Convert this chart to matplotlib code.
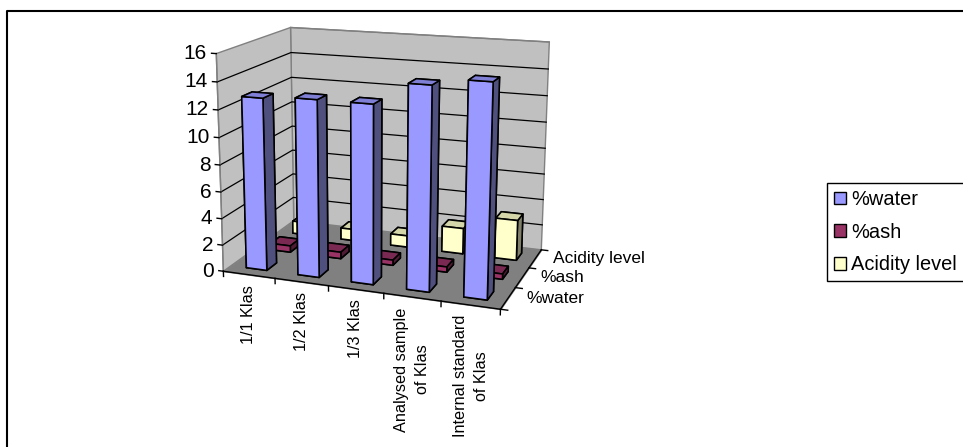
import numpy as np
import matplotlib
matplotlib.use('Agg')
import matplotlib.pyplot as plt
from matplotlib.lines import Line2D
from matplotlib.patches import Patch
from mpl_toolkits.mplot3d.art3d import Poly3DCollection
from mpl_toolkits.mplot3d import proj3d

plt.rcParams['font.family'] = ['Liberation Sans', 'DejaVu Sans']

# Dane
kategorie = ['1/1 Klas', '1/2 Klas', '1/3 Klas', 'Analysed sample\nof Klas', 'Internal standard\nof Klas']
serie = ['%water', '%ash', 'Acidity level']
woda = [12.8, 13.0, 13.0, 14.6, 15.1]
popiol = [0.5, 0.5, 0.4, 0.4, 0.4]
kwasowosc = [1.0, 0.9, 0.9, 2.0, 3.1]
z_ticks = [0, 2, 4, 6, 8, 10, 12, 14, 16]

# front, bok, gora
kolory = {
    '%water': ('#9999FF', '#50507F', '#7F7FD5'),
    '%ash': ('#993366', '#501B35', '#7A2952'),
    'Acidity level': ('#FFFFCC', '#80806A', '#D5D5AA'),
}

W, H = 963, 447
nx, ny, nz = len(kategorie), len(serie), z_ticks[-1]

# Rogi pudelka wykresu i ich polozenie w pikselach
rogi_3d = [(0, 0, 0), (nx, 0, 0), (nx, ny, 0), (0, ny, 0), (0, 0, nz), (0, ny, nz), (nx, ny, nz)]
rogi_px = [(225, 272), (500, 309), (542, 250), (292, 220), (215, 53), (292, 28), (549, 42)]


def macierz_kamery(punkty, piksele):
    # Macierz rzutu perspektywicznego liczona metoda DLT
    A = []
    for (x, y, z), (u, v) in zip(punkty, piksele):
        A.append([x, y, z, 1, 0, 0, 0, 0, -u * x, -u * y, -u * z, -u])
        A.append([0, 0, 0, 0, x, y, z, 1, -v * x, -v * y, -v * z, -v])
    P = np.linalg.svd(np.array(A, dtype=float))[2][-1].reshape(3, 4)
    P = P / P[2, 3]
    glebia = [-0.2, 1.0, -0.05, 0.0]
    return np.array([P[0], P[1], glebia, P[2]])


M = macierz_kamery(rogi_3d, rogi_px)

fig = plt.figure(figsize=(W / 100, H / 100), dpi=100)
# Kwadratowe axes obejmujace caly obrazek, wspolrzedne 2D to piksele
bok = W / H
ax = fig.add_axes([0, (1 - bok) / 2, 1, bok], projection='3d')
ax.set_axis_off()
ax.computed_zorder = False
# tryb ortho wylacza przycinanie linii do zakresu -1..1
ax.set_proj_type('ortho')
ax.get_proj = lambda: M
ax.patch.set_visible(False)


def rzut(x, y, z):
    u, v, _ = proj3d.proj_transform(x, y, z, M)
    return float(u), float(v)


# Sciany i podloga
sciana_tyl = [(0, ny, 0), (nx, ny, 0), (nx, ny, nz), (0, ny, nz)]
sciana_lewa = [(0, 0, 0), (0, ny, 0), (0, ny, nz), (0, 0, nz)]
podloga = [(0, 0, 0), (nx, 0, 0), (nx, ny, 0), (0, ny, 0)]
ax.add_collection3d(Poly3DCollection([sciana_tyl, sciana_lewa], facecolor='#C0C0C0',
                                     edgecolor='#808080', linewidth=1.0, zorder=1))
ax.add_collection3d(Poly3DCollection([podloga], facecolor='#808080', edgecolor='#808080',
                                     linewidth=0.8, zorder=3))

# Linie siatki
for z in z_ticks[1:-1]:
    ax.plot([0, 0, nx], [0, ny, ny], [z, z, z], color='black', lw=0.9, zorder=2)
ax.plot([0, nx], [ny, ny], [nz, nz], color='#808080', lw=1.0, zorder=2)
ax.plot([0, nx, nx], [0, 0, ny], [0, 0, 0], color='black', lw=1.0, zorder=4)
ax.plot([0, 0], [0, 0], [0, nz], color='#808080', lw=1.0, zorder=2)

# Znaczniki osi
for z in z_ticks:
    ax.plot([-0.09, 0], [0, 0], [z, z], color='black', lw=1.0, zorder=2)
    u, v = rzut(0, 0, z)
    ax.text2D(u - 9.5, v, str(z), transform=ax.transData, ha='right', va='center', fontsize=15)
for i in range(nx + 1):
    ax.plot([i, i], [0, 0], [0, -0.4], color='black', lw=1.0, zorder=4)
for j in range(ny + 1):
    ax.plot([nx, nx + 0.12], [j, j], [0, 0], color='black', lw=1.0, zorder=4)

# Opisy osi
for i, nazwa in enumerate(kategorie):
    u, v = rzut(i + 0.5, 0, 0)
    ax.text2D(u, v + 10, nazwa, transform=ax.transData, rotation=90, ha='center', va='top',
              multialignment='center', fontsize=11.7, linespacing=1.5)
for j, nazwa in enumerate(serie):
    u, v = rzut(nx, j + 0.5, 0)
    ax.text2D(u + 18, v, nazwa, transform=ax.transData, ha='left', va='center', fontsize=12.5)

# Slupki, od najdalszego do najblizszego
szer = 0.4
z_kolejnosc = 10
wartosci = {'%water': woda, '%ash': popiol, 'Acidity level': kwasowosc}
for j in reversed(range(ny)):
    nazwa = serie[j]
    front, bok_k, gora = kolory[nazwa]
    # kolejnosc scian w bar3d: -Z, +Z, -Y, +Y, -X, +X
    sciany = [front, gora, front, front, bok_k, bok_k]
    for i, wart in enumerate(wartosci[nazwa]):
        ax.bar3d(i + 0.3, j + 0.3, 0, szer, szer, wart, color=sciany, edgecolor='black',
                 linewidth=1.15, shade=False, zorder=z_kolejnosc)
        z_kolejnosc += 1

# Ramka wokol wykresu (otwarta z prawej i od dolu)
fig.add_artist(Line2D([6.5 / W, 6.5 / W, 1], [0, 1 - 11 / H, 1 - 11 / H], color='black', lw=1.5))

# Legenda
uchwyty = [Patch(facecolor=kolory[s][0], edgecolor='black', linewidth=1.0) for s in serie]
leg = fig.legend(uchwyty, serie, loc='upper left', bbox_to_anchor=(827 / W, 1 - 183 / H),
                 fontsize=14.4, frameon=True, fancybox=False, edgecolor='black', framealpha=1,
                 borderaxespad=0, borderpad=0.35, handlelength=0.6, handleheight=0.6,
                 handletextpad=0.25, labelspacing=0.68)
leg.get_frame().set_linewidth(1.0)

# Wspolrzedne 2D axes w pikselach
ax.viewLim.intervalx = (0, W)
ax.viewLim.intervaly = (H + (W - H) / 2, -(W - H) / 2)

fig.savefig('out.png', dpi=100)
